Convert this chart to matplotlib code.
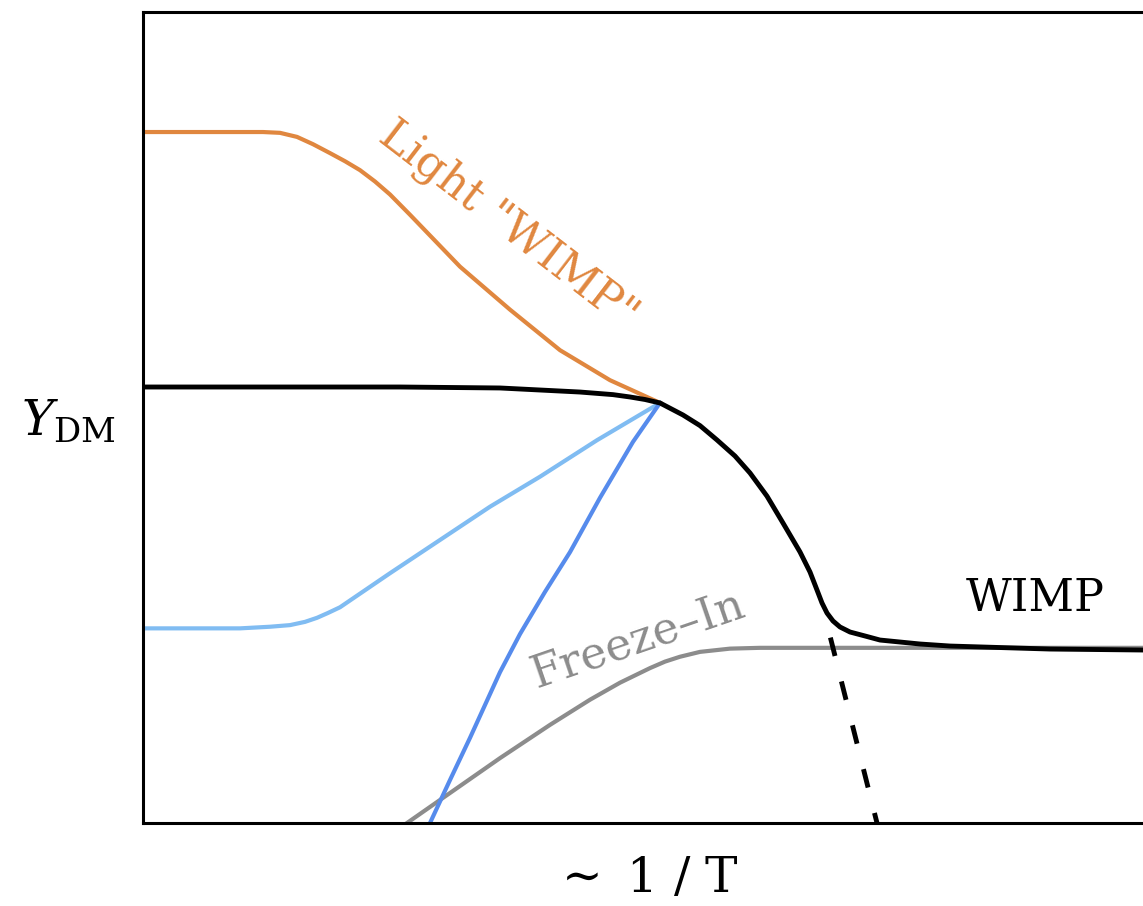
import numpy as np
import matplotlib
matplotlib.use("Agg")
from matplotlib import pyplot as plt

plt.rcParams['font.family'] = 'DejaVu Serif'
plt.rcParams['mathtext.fontset'] = 'dejavuserif'

# curves, x ~ 1/T and y ~ Y_DM in arbitrary units (0..10)
wimp_x = [0.0, 2.57, 3.57, 4.37, 4.70, 4.87, 5.02, 5.17, 5.40, 5.57, 5.74, 5.92, 6.07, 6.24, 6.40,
          6.57, 6.67, 6.74, 6.79, 6.84, 6.90, 6.97, 7.07, 7.22, 7.37, 7.77, 8.07, 9.07, 10.0]
wimp_y = [5.376, 5.376, 5.364, 5.314, 5.282, 5.253, 5.222, 5.179, 5.031, 4.900, 4.723, 4.525, 4.316,
          4.030, 3.699, 3.342, 3.095, 2.873, 2.713, 2.589, 2.491, 2.417, 2.355, 2.306,
          2.256, 2.207, 2.182, 2.145, 2.133]

light_x = [0.0, 1.20, 1.37, 1.54, 1.70, 1.87, 2.02, 2.17, 2.32, 2.47, 2.67, 3.17, 3.67, 4.17, 4.67, 5.17]
light_y = [8.52, 8.52, 8.51, 8.46, 8.37, 8.26, 8.16, 8.05, 7.91, 7.75, 7.50, 6.86, 6.33, 5.83, 5.46, 5.18]

lblue_x = [0.0, 0.97, 1.27, 1.47, 1.62, 1.74, 1.85, 1.97, 2.22, 2.47, 2.97, 3.47, 3.97, 4.54, 5.17]
lblue_y = [2.40, 2.40, 2.42, 2.44, 2.48, 2.53, 2.59, 2.66, 2.87, 3.08, 3.49, 3.90, 4.27, 4.72, 5.18]

blue_x = [2.87, 3.07, 3.27, 3.57, 3.77, 4.02, 4.27, 4.57, 4.90, 5.17]
blue_y = [0.00, 0.53, 1.05, 1.86, 2.33, 2.85, 3.34, 4.01, 4.70, 5.18]

fi_x = [2.64, 3.07, 3.57, 4.07, 4.47, 4.77, 5.07, 5.22, 5.37, 5.57, 5.87, 6.17, 6.57, 10.0]
fi_y = [0.00, 0.37, 0.80, 1.21, 1.52, 1.73, 1.91, 1.99, 2.05, 2.11, 2.15, 2.16, 2.16, 2.16]

dash_x = [6.81, 7.34]
dash_y = [2.60, 0.00]

fig = plt.figure(figsize=(11.43, 9.06), dpi=100)
ax = fig.add_axes([143 / 1143, 83 / 906, 1000 / 1143, 811 / 906])

ax.plot(fi_x, fi_y, color='#8c8c8c', lw=3.0)
ax.plot(lblue_x, lblue_y, color='#80bcf2', lw=3.0)
ax.plot(blue_x, blue_y, color='#568bec', lw=3.0)
ax.plot(light_x, light_y, color='#e0873f', lw=3.0)
ax.plot(wimp_x, wimp_y, color='black', lw=3.5)
ax.plot(dash_x, dash_y, color='black', lw=3.5, ls=(3.9, (3.9, 5.4)))

ax.text(3.65, 7.37, 'Light "WIMP"', color='#e0873f', fontsize=32,
        rotation=-37.5, ha='center', va='center', rotation_mode='anchor')
ax.text(4.95, 2.27, 'Freeze\u2013In', color='#8c8c8c', fontsize=32,
        rotation=19, ha='center', va='center', rotation_mode='anchor')
ax.text(8.92, 2.77, 'WIMP', color='black', fontsize=32, ha='center', va='center')

ax.set_xlim(0, 10)
ax.set_ylim(0, 10)
ax.set_xticks([])
ax.set_yticks([])
for s in ['left', 'bottom', 'top']:
    ax.spines[s].set_linewidth(2.2)
ax.spines['right'].set_visible(False)

fig.text(68 / 1143, 1 - 422 / 906, r'$Y_{\rm DM}$', fontsize=35, ha='center', va='center')
fig.text(645 / 1143, 1 - 878 / 906, r'$\sim$ 1 / T', fontsize=35, ha='center', va='center')

fig.savefig('out.png', dpi=100)
